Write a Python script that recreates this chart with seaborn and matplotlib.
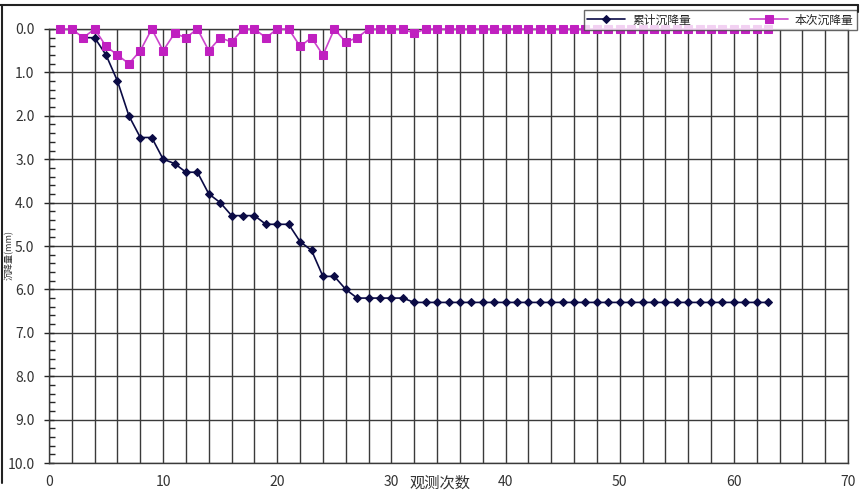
import matplotlib
matplotlib.use("Agg")
import matplotlib.pyplot as plt
from matplotlib.ticker import MultipleLocator, FormatStrFormatter
import seaborn as sns

# 观测次数
obs_all = list(range(1, 64))
obs_cum = list(range(3, 64))

# 本次沉降量 (mm)
cur_vals = [0.0, 0.0, 0.2, 0.0, 0.4, 0.6, 0.8, 0.5, 0.0, 0.5,
            0.1, 0.2, 0.0, 0.5, 0.2, 0.3, 0.0, 0.0, 0.2, 0.0,
            0.0, 0.4, 0.2, 0.6, 0.0, 0.3, 0.2, 0.0, 0.0, 0.0,
            0.0, 0.1, 0.0, 0.0, 0.0, 0.0, 0.0, 0.0, 0.0, 0.0,
            0.0, 0.0, 0.0, 0.0, 0.0, 0.0, 0.0, 0.0, 0.0, 0.0,
            0.0, 0.0, 0.0, 0.0, 0.0, 0.0, 0.0, 0.0, 0.0, 0.0,
            0.0, 0.0, 0.0]

# 累计沉降量 (mm), from obs 3
cum_vals = [0.2, 0.2, 0.6, 1.2, 2.0, 2.5, 2.5, 3.0, 3.1, 3.3,
            3.3, 3.8, 4.0, 4.3, 4.3, 4.3, 4.5, 4.5, 4.5, 4.9,
            5.1, 5.7, 5.7, 6.0, 6.2, 6.2, 6.2, 6.2, 6.2, 6.3,
            6.3, 6.3, 6.3, 6.3, 6.3, 6.3, 6.3, 6.3, 6.3, 6.3,
            6.3, 6.3, 6.3, 6.3, 6.3, 6.3, 6.3, 6.3, 6.3, 6.3,
            6.3, 6.3, 6.3, 6.3, 6.3, 6.3, 6.3, 6.3, 6.3, 6.3,
            6.3]

sns.set_style("white")
plt.rcParams['font.family'] = ['Noto Sans CJK SC', 'DejaVu Sans']

fig = plt.figure(figsize=(8.66, 5.0), dpi=100)
ax = fig.add_axes([49 / 866, 37 / 500, 799 / 866, 434 / 500])

sns.lineplot(x=obs_cum, y=cum_vals, ax=ax, color='#0b0b45', marker='D',
             markersize=4.5, markeredgecolor='#0b0b45', lw=1.2,
             label='累计沉降量', clip_on=False, zorder=3)
sns.lineplot(x=obs_all, y=cur_vals, ax=ax, color='#cc44cc', marker='s',
             markersize=5.5, markerfacecolor='#c020c0', markeredgecolor='#c020c0',
             lw=1.2, label='本次沉降量', clip_on=False, zorder=4)

ax.set_xlim(0, 70)
ax.set_ylim(10, 0)
ax.xaxis.set_major_locator(MultipleLocator(10))
ax.xaxis.set_minor_locator(MultipleLocator(2))
ax.yaxis.set_major_locator(MultipleLocator(1))
ax.yaxis.set_minor_locator(MultipleLocator(0.2))
ax.yaxis.set_major_formatter(FormatStrFormatter('%.1f'))

ax.grid(True, which='both', axis='x', color='#3a3a3a', lw=1)
ax.grid(True, which='major', axis='y', color='#3a3a3a', lw=1)
ax.set_axisbelow(True)

ax.tick_params(axis='x', which='both', length=0, pad=9, labelsize=10, labelcolor='#333333')
ax.tick_params(axis='y', which='major', direction='inout', length=7, width=1,
               pad=7, labelsize=10, labelcolor='#333333', left=True)
ax.tick_params(axis='y', which='minor', direction='in', length=4, width=1, left=True)

for side in ['left', 'bottom', 'top', 'right']:
    ax.spines[side].set_color('#3a3a3a')
    ax.spines[side].set_linewidth(1)

ax.set_xlabel('')
ax.set_ylabel('')

leg = ax.legend(loc='upper right', bbox_to_anchor=(857 / 866, 1 - 10 / 500),
                bbox_transform=fig.transFigure, ncol=2, fontsize=8.5,
                frameon=True, fancybox=False, edgecolor='#444444',
                handlelength=3.2, columnspacing=5.0, borderpad=0.3,
                handletextpad=0.6, borderaxespad=0)
leg.get_frame().set_linewidth(1)
leg.set_zorder(10)

fig.text(9 / 866, 1 - 255 / 500, '沉降量(mm)', rotation=90, fontsize=6.5,
         ha='center', va='center', color='#333333')
fig.text(440 / 866, 1 - 483 / 500, '观测次数', fontsize=11,
         ha='center', va='center', color='#333333')

# outer frame of the chart
fig.add_artist(plt.Line2D([0, 858 / 866], [1 - 5 / 500, 1 - 5 / 500],
                          transform=fig.transFigure, color='#222222', lw=1.5))
fig.add_artist(plt.Line2D([2 / 866, 2 / 866], [1 - 5 / 500, 1 - 483 / 500],
                          transform=fig.transFigure, color='#222222', lw=1.5))
fig.add_artist(plt.Line2D([858 / 866, 858 / 866], [1 - 5 / 500, 1 - 12 / 500],
                          transform=fig.transFigure, color='#222222', lw=1.5))

fig.savefig('out.png', dpi=100)
